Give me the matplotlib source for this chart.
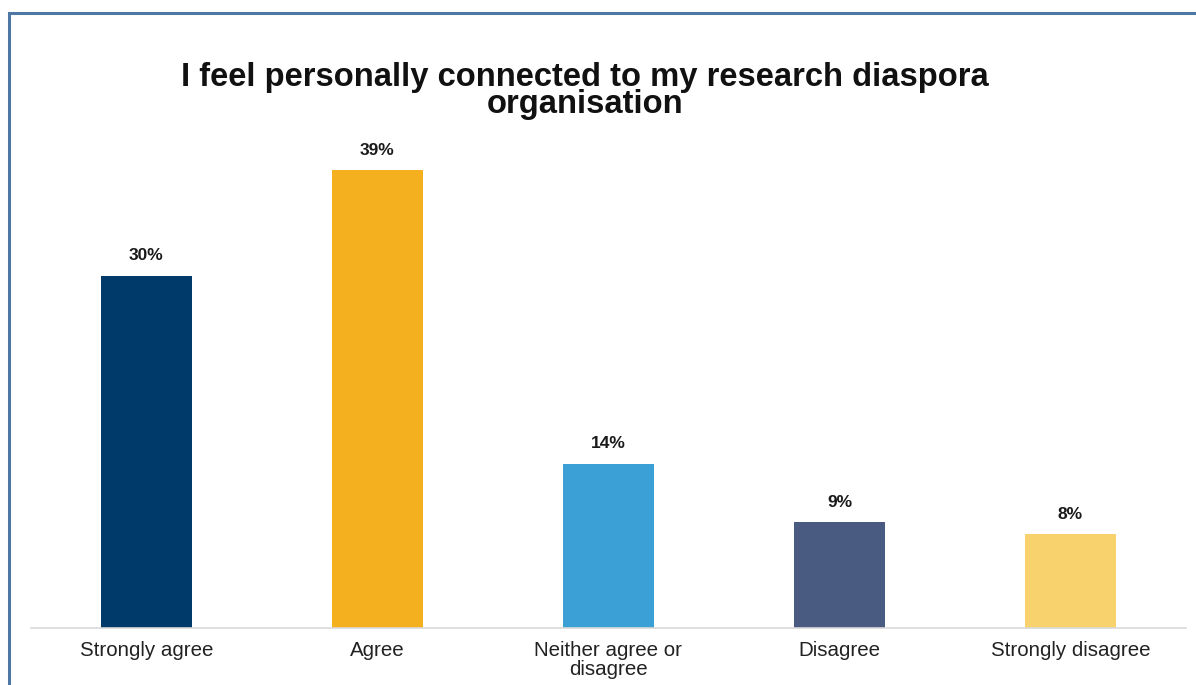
import matplotlib
matplotlib.use("Agg")
import matplotlib.pyplot as plt
from matplotlib.patches import Rectangle

categories = ["Strongly agree", "Agree", "Neither agree or\ndisagree", "Disagree", "Strongly disagree"]
values = [30, 39, 14, 9, 8]
colors = ["#003a6b", "#f4b01e", "#3ba0d6", "#4a5b82", "#f8d26d"]
title = "I feel personally connected to my research diaspora\norganisation"

W, H = 1196, 685
fig = plt.figure(figsize=(W / 100, H / 100), dpi=100)
plt.rcParams["font.family"] = ["Liberation Sans", "DejaVu Sans"]

# frame around the chart area
fig.patches.append(Rectangle((9 / W, -0.1), 1.2, (H - 13) / H + 0.1,
                             transform=fig.transFigure, fill=False,
                             edgecolor="#4f77a3", linewidth=2.2, zorder=0))

ax = fig.add_axes([31 / W, (H - 628) / H, 1155 / W, 528 / H])
x = list(range(len(categories)))
bars = ax.bar(x, values, width=0.39, color=colors, zorder=2)
ax.set_xlim(-0.5, len(categories) - 0.5)
ax.set_ylim(0, 45)

for rect, v in zip(bars, values):
    ax.annotate(f"{v}%", (rect.get_x() + rect.get_width() / 2, v),
                xytext=(0, 9), textcoords="offset points",
                ha="center", va="bottom", fontsize=12.5, fontweight="bold",
                color="#1a1a1a")

ax.set_xticks(x)
ax.set_xticklabels(categories, fontsize=14.8, color="#222222", linespacing=1.05)
ax.tick_params(axis="x", length=0, pad=9)
ax.set_yticks([])
for side in ["top", "right", "left"]:
    ax.spines[side].set_visible(False)
ax.spines["bottom"].set_color("#d9d9d9")
ax.spines["bottom"].set_linewidth(1.2)

fig.text(585 / W, 1 - 91 / H, title, ha="center", va="center",
         fontsize=23.6, fontweight="bold", color="#111111", linespacing=0.84)

fig.savefig("out.png", dpi=100)
